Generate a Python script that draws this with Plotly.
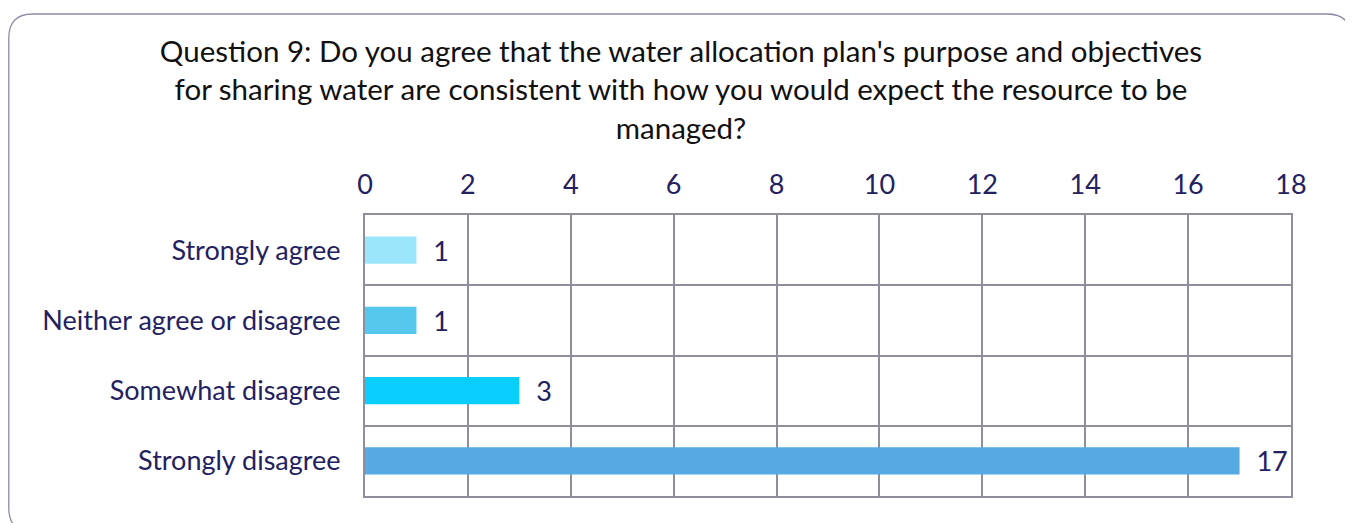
import plotly.graph_objects as go

categories = ["Strongly agree", "Neither agree or disagree", "Somewhat disagree", "Strongly disagree"]
values = [1, 1, 3, 17]
bar_colors = ["#9ce6fc", "#56c8ee", "#0acefe", "#56a9e3"]
x_ticks = list(range(0, 19, 2))
title_text = ("Question 9: Do you agree that the water allocation plan's purpose and objectives<br>"
              "for sharing water are consistent with how you would expect the resource to be<br>"
              "managed?")

OFF = 8  # page offset of the figure inside the window
W, H = 1353 - OFF, 523 - OFF
L, R, T, B = 365 - OFF, 1291 - OFF, 215 - OFF, 496 - OFF
navy = "#23215f"
grid = "#8f8e9b"

fig = go.Figure()
fig.add_trace(go.Bar(
    x=values, y=categories, orientation="h",
    marker=dict(color=bar_colors, line=dict(width=0)),
    width=0.39,
    texttemplate="\u00a0\u00a0%{x}", textposition="outside",
    textfont=dict(family="Lato", size=27, color=navy),
    constraintext="none",
    cliponaxis=False, hoverinfo="skip",
))

def px(x):
    return (x - L) / (R - L)
def py(y):
    return (B - y) / (B - T)

# rounded outer border (figure pixel coordinates)
x0, x1, y0, y1, r = 0.8, 1343, 6, 524, 24
path = (f"M {px(x0 + r)},{py(y0)} L {px(x1 - r)},{py(y0)} "
        f"Q {px(x1)},{py(y0)} {px(x1)},{py(y0 + r)} "
        f"L {px(x1)},{py(y1 - r)} Q {px(x1)},{py(y1)} {px(x1 - r)},{py(y1)} "
        f"L {px(x0 + r)},{py(y1)} Q {px(x0)},{py(y1)} {px(x0)},{py(y1 - r)} "
        f"L {px(x0)},{py(y0 + r)} Q {px(x0)},{py(y0)} {px(x0 + r)},{py(y0)} Z")
fig.add_shape(type="path", path=path, xref="paper", yref="paper",
              line=dict(color="#8c8aa6", width=1.3), layer="below")

fig.update_layout(
    width=W, height=H,
    margin=dict(l=L, r=W - R, t=T, b=H - B),
    paper_bgcolor="white", plot_bgcolor="white",
    showlegend=False,
    title=dict(text=title_text, x=(681 - OFF) / W, xref="container", xanchor="center",
               y=1 - 54 / H, yref="container", yanchor="top",
               font=dict(family="Lato", size=29.5, color="#111111")),
    xaxis=dict(side="top", range=[0, 18], tickvals=x_ticks,
               showgrid=True, gridcolor=grid, gridwidth=2,
               showline=True, linecolor=grid, linewidth=2, mirror=True,
               zeroline=False, ticks="", ticklabelstandoff=8,
               tickfont=dict(family="Lato", size=27, color=navy)),
    yaxis=dict(autorange="reversed", tickson="boundaries",
               showgrid=True, gridcolor=grid, gridwidth=2,
               showline=True, linecolor=grid, linewidth=2, mirror=True,
               ticks="", ticklabelstandoff=17,
               tickfont=dict(family="Lato", size=27, color=navy)),
)

fig.write_html("out.html")
